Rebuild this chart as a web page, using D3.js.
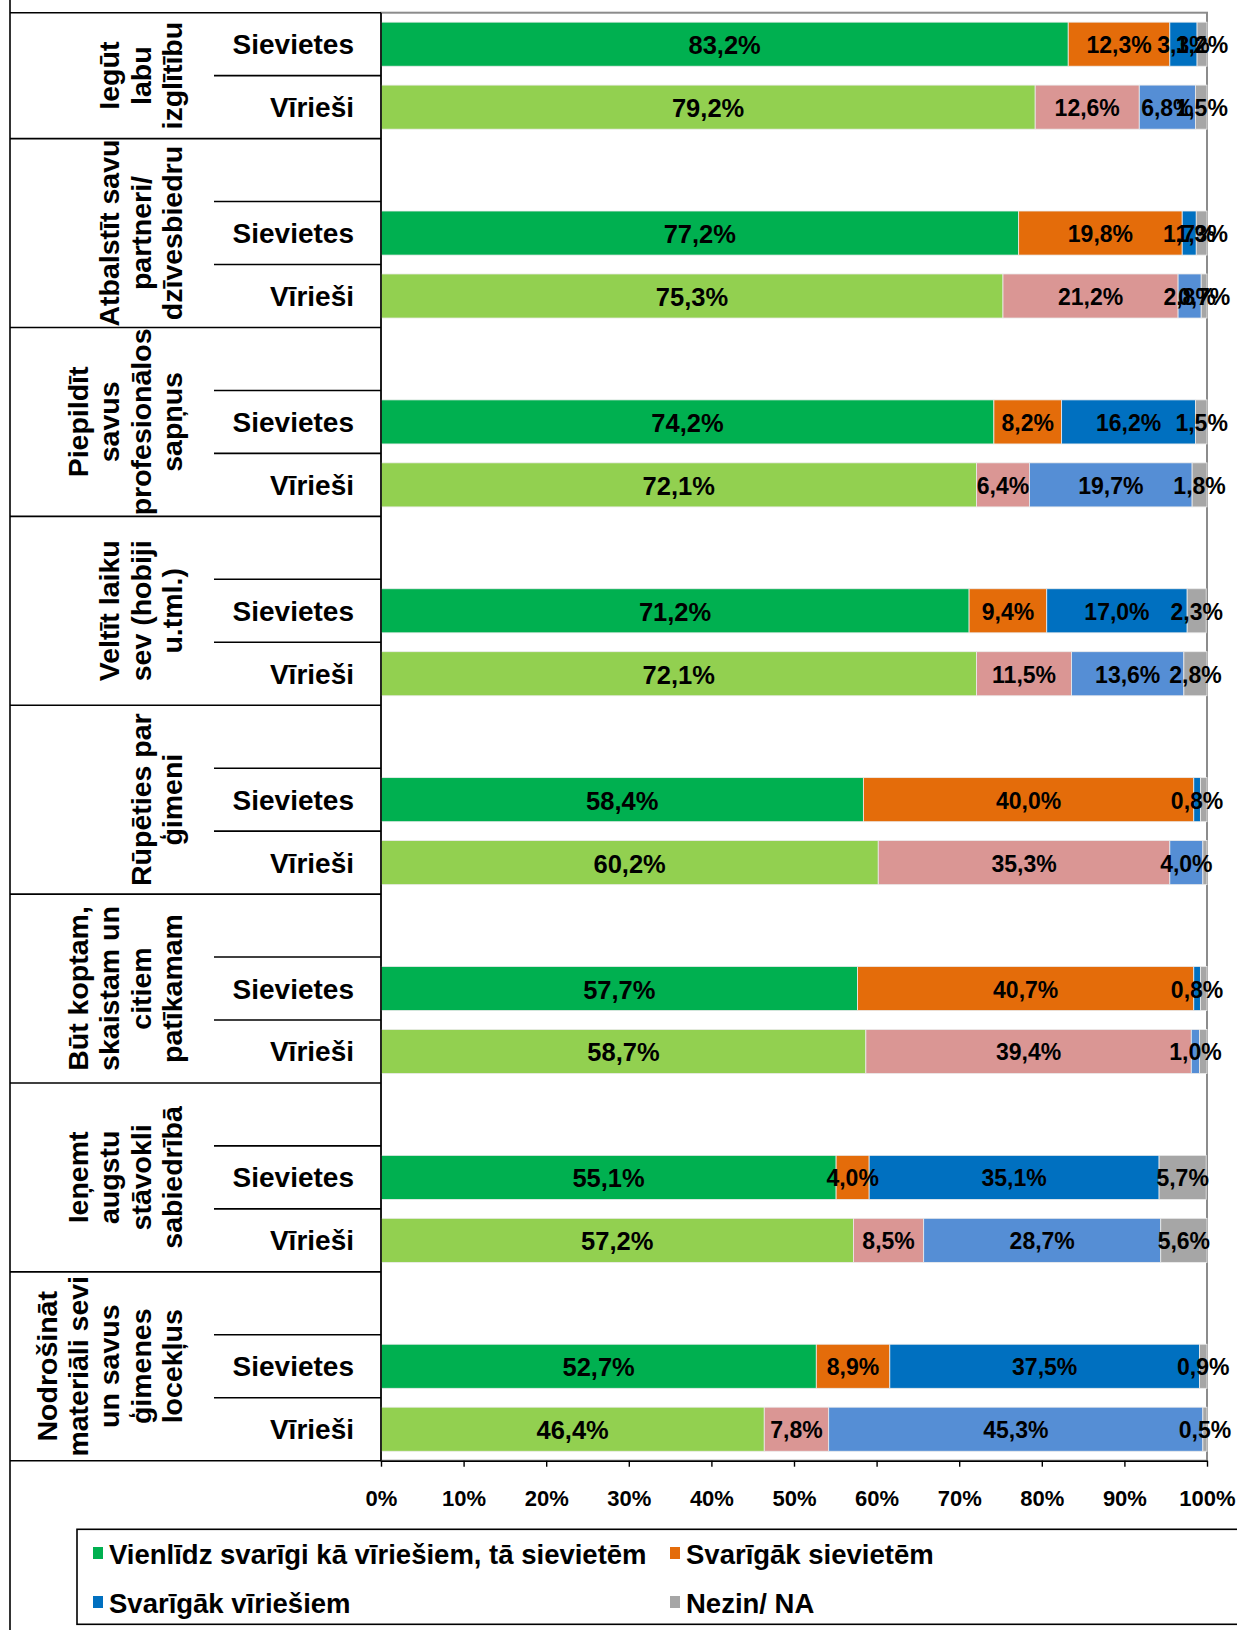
<!DOCTYPE html>
<html>
<head>
<meta charset="utf-8">
<script src="https://cdn.jsdelivr.net/npm/d3@7"></script>
<style>
  html, body { margin: 0; padding: 0; background: #fff; }
  svg { display: block; }
  text { font-family: "Liberation Sans", Arial, sans-serif; font-weight: bold; fill: #000; }
</style>
</head>
<body>
<svg id="chart" width="1237" height="1630"></svg>
<script>
// ---------- DATA ----------
const categoryLines = [
  ["Iegūt", "labu", "izglītību"],
  ["Atbalstīt savu", "partneri/", "dzīvesbiedru"],
  ["Piepildīt", "savus", "profesionālos", "sapņus"],
  ["Veltīt laiku", "sev (hobiji", "u.tml.)"],
  ["Rūpēties par", "ģimeni"],
  ["Būt koptam,", "skaistam un", "citiem", "patīkamam"],
  ["Ieņemt", "augstu", "stāvokli", "sabiedrībā"],
  ["Nodrošināt", "materiāli sevi", "un savus", "ģimenes", "locekļus"]
];
const genders = ["Sievietes", "Vīrieši"];
const seriesNames = ["Vienlīdz svarīgi kā vīriešiem, tā sievietēm", "Svarīgāk sievietēm", "Svarīgāk vīriešiem", "Nezin/ NA"];

// women rows (Sievietes)
const equalW = [83.2, 77.2, 74.2, 71.2, 58.4, 57.7, 55.1, 52.7];
const moreWomenW = [12.3, 19.8, 8.2, 9.4, 40.0, 40.7, 4.0, 8.9];
const moreMenW = [3.3, 1.7, 16.2, 17.0, 0.8, 0.8, 35.1, 37.5];
const naW = [1.2, 1.3, 1.5, 2.3, 0.8, 0.8, 5.7, 0.9];
// men rows (Vīrieši)
const equalM = [79.2, 75.3, 72.1, 72.1, 60.2, 58.7, 57.2, 46.4];
const moreWomenM = [12.6, 21.2, 6.4, 11.5, 35.3, 39.4, 8.5, 7.8];
const moreMenM = [6.8, 2.8, 19.7, 13.6, 4.0, 1.0, 28.7, 45.3];
const naM = [1.5, 0.7, 1.8, 2.8, 0.5, 0.9, 5.6, 0.5];

const xTicks = [0, 10, 20, 30, 40, 50, 60, 70, 80, 90, 100];
// labels not shown in the original: [category index, gender index, series index]
const hiddenLabels = [[4, 0, 3], [4, 1, 3], [5, 0, 3], [5, 1, 3]];

// ---------- STYLE ----------
const colorsW = ["#00B050", "#E46C0A", "#0070C0", "#A6A6A6"];
const colorsM = ["#92D050", "#DA9694", "#558ED5", "#A6A6A6"];
const legendColors = ["#00B050", "#E46C0A", "#0070C0", "#A6A6A6"];

const svg = d3.select("#chart");
svg.append("rect").attr("width", 1237).attr("height", 1630).attr("fill", "#fff");

const plotLeft = 381, plotRight = 1207, plotTop = 12.7, plotBottom = 1460.7;
const frameX = 10, subX = 214;

// rows: category 0 has [S, V]; others have [blank, S, V]
const rowKeys = [];
categoryLines.forEach((c, i) => {
  if (i > 0) rowKeys.push(`b${i}`);
  rowKeys.push(`${i}-0`, `${i}-1`);
});

const y = d3.scaleBand().domain(rowKeys).range([plotTop, plotBottom]).paddingInner(0.3).paddingOuter(0.15);
const x = d3.scaleLinear().domain([0, 100]).range([plotLeft, plotRight]);
const step = y.step();
const slotTop = k => y(k) - y.paddingOuter() * step;

const rowsData = [];
categoryLines.forEach((c, i) => {
  const w = [equalW[i], moreWomenW[i], moreMenW[i], naW[i]];
  const m = [equalM[i], moreWomenM[i], moreMenM[i], naM[i]];
  [w, m].forEach((vals, g) => {
    let acc = 0;
    vals.forEach((v, s) => {
      rowsData.push({ cat: i, g, s, v, x0: acc, x1: acc + v });
      acc += v;
    });
  });
});

// plot border (gray)
svg.append("rect")
  .attr("x", plotLeft).attr("y", plotTop)
  .attr("width", plotRight - plotLeft).attr("height", plotBottom - plotTop)
  .attr("fill", "none").attr("stroke", "#8c8c8c").attr("stroke-width", 2);

// bars
svg.append("g").selectAll("rect").data(rowsData).join("rect")
  .attr("x", d => x(d.x0))
  .attr("y", d => y(`${d.cat}-${d.g}`))
  .attr("width", d => Math.max(0, Math.min(x(d.x1), plotRight) - x(d.x0)))
  .attr("height", y.bandwidth())
  .attr("fill", d => (d.g === 0 ? colorsW : colorsM)[d.s])
  .attr("stroke", "#ececec").attr("stroke-width", 0.8);

// bar labels
const fmt = v => d3.format(".1f")(v).replace(".", ",") + "%";
const isHidden = d => hiddenLabels.some(h => h[0] === d.cat && h[1] === d.g && h[2] === d.s);
svg.append("g").selectAll("text").data(rowsData.filter(d => !isHidden(d))).join("text")
  .attr("x", d => x((d.x0 + d.x1) / 2))
  .attr("y", d => y(`${d.cat}-${d.g}`) + y.bandwidth() / 2 + (d.s === 0 ? 10 : 9))
  .attr("text-anchor", "middle")
  .attr("font-size", d => d.s === 0 ? 25.5 : 23)
  .text(d => fmt(d.v));

// left structure lines
const lines = svg.append("g").attr("stroke", "#000").attr("stroke-width", 1.6);
lines.append("line").attr("x1", frameX).attr("x2", frameX).attr("y1", 0).attr("y2", 1630);
lines.append("line").attr("x1", frameX).attr("x2", plotLeft).attr("y1", plotTop).attr("y2", plotTop);
categoryLines.forEach((c, i) => {
  const bottom = slotTop(`${i}-1`) + step;
  lines.append("line").attr("x1", frameX).attr("x2", plotLeft).attr("y1", bottom).attr("y2", bottom);
  if (i > 0) {
    const t = slotTop(`${i}-0`);
    lines.append("line").attr("x1", subX).attr("x2", plotLeft).attr("y1", t).attr("y2", t);
  }
  const t2 = slotTop(`${i}-1`);
  lines.append("line").attr("x1", subX).attr("x2", plotLeft).attr("y1", t2).attr("y2", t2);
});
lines.append("line").attr("x1", plotLeft).attr("x2", plotLeft).attr("y1", plotTop).attr("y2", plotBottom);

// gender labels
categoryLines.forEach((c, i) => {
  genders.forEach((gname, g) => {
    const k = `${i}-${g}`;
    svg.append("text")
      .attr("x", 354)
      .attr("y", y(k) + y.bandwidth() / 2 + 10)
      .attr("text-anchor", "end")
      .attr("font-size", 28)
      .text(gname);
  });
});

// category labels (rotated)
categoryLines.forEach((c, i) => {
  const top = i === 0 ? plotTop : slotTop(`b${i}`);
  const bottom = slotTop(`${i}-1`) + step;
  const cy = (top + bottom) / 2;
  const n = c.length;
  c.forEach((line, j) => {
    const cx = 172 - (n - 1 - j) * 31.3;
    svg.append("text")
      .attr("transform", `translate(${cx},${cy}) rotate(-90)`)
      .attr("text-anchor", "middle")
      .attr("dy", "0.35em")
      .attr("font-size", 28.5)
      .text(line);
  });
});

// x axis
const xAxis = d3.axisBottom(x).tickValues(xTicks).tickSize(6).tickSizeOuter(0).tickPadding(23.5)
  .tickFormat(d => d + "%");
const ax = svg.append("g").attr("transform", `translate(0,${plotBottom})`).call(xAxis);
ax.select(".domain").attr("stroke", "#000").attr("stroke-width", 1.6);
ax.selectAll(".tick line").attr("stroke", "#000").attr("stroke-width", 1.4);
ax.selectAll(".tick text")
  .attr("font-family", "Liberation Sans, Arial, sans-serif")
  .attr("font-weight", "bold")
  .attr("font-size", 22)
  .attr("fill", "#000");

// legend
svg.append("rect")
  .attr("x", 77).attr("y", 1529.3).attr("width", 1200).attr("height", 95)
  .attr("fill", "none").attr("stroke", "#000").attr("stroke-width", 1.6);
const legendPos = [[93, 1554], [670, 1554], [93, 1603], [670, 1603]];
seriesNames.forEach((name, i) => {
  const [lx, ly] = legendPos[i];
  svg.append("rect").attr("x", lx).attr("y", ly - 7).attr("width", 10).attr("height", 12)
    .attr("fill", legendColors[i]);
  svg.append("text").attr("x", lx + 16).attr("y", ly + 9.5)
    .attr("font-size", 27.5).text(name);
});
</script>
</body>
</html>
